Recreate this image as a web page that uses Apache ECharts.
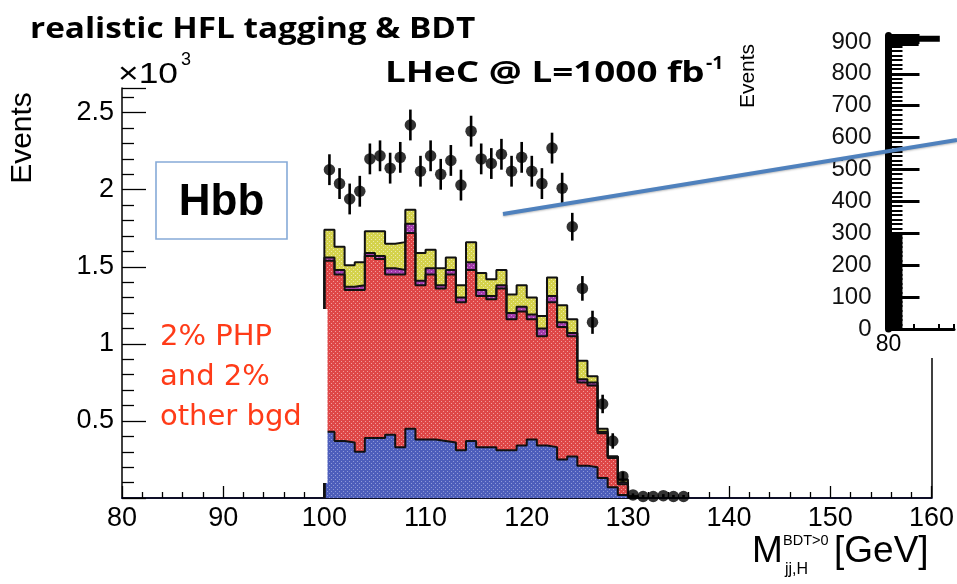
<!DOCTYPE html>
<html><head><meta charset="utf-8">
<script src="https://cdn.jsdelivr.net/npm/echarts@6/dist/echarts.min.js"></script>
<style>html,body{margin:0;padding:0;background:#fff}#c{width:957px;height:584px}</style>
</head><body><div id="c"></div>
<script>
// ---- data (values in units of 10^3 events) ----
const binLow = [100,101,102,103,104,105,106,107,108,109,110,111,112,113,114,115,116,117,118,119,120,121,122,123,124,125,126,127,128,129,130,131,132,133,134,135];
const bkgBlue    = [0.43,0.37,0.36,0.30,0.39,0.39,0.41,0.33,0.45,0.38,0.38,0.37,0.36,0.31,0.37,0.33,0.33,0.31,0.31,0.34,0.38,0.34,0.33,0.25,0.27,0.21,0.20,0.13,0.07,0.02,0.005];
const bkgRed     = [1.11,1.08,0.99,1.05,1.18,1.16,1.04,1.12,1.27,1.00,1.07,0.99,1.09,0.96,1.11,0.98,0.96,1.05,0.85,0.87,0.78,0.71,0.94,0.86,0.78,0.54,0.53,0.29,0.19,0.07,0.005];
const bkgMagenta = [0.02,0.03,0.02,0.03,0.02,0.02,0.04,0.03,0.06,0.03,0.04,0.02,0.03,0.03,0.05,0.04,0.02,0.02,0.04,0.03,0.03,0.05,0.04,0.03,0.02,0.02,0.02,0.01,0.01,0.01,0];
const bkgYellow  = [0.18,0.15,0.14,0.15,0.14,0.16,0.16,0.18,0.09,0.18,0.12,0.11,0.08,0.08,0.13,0.11,0.11,0.10,0.12,0.14,0.11,0.08,0.12,0.11,0.09,0.12,0.04,0.02,0.00,0.02,0];
const dataVal = [2.13,2.04,1.94,1.99,2.20,2.22,2.14,2.21,2.42,2.12,2.22,2.10,2.19,2.03,2.38,2.20,2.17,2.23,2.12,2.21,2.12,2.04,2.27,2.01,1.76,1.36,1.14,0.61,0.37,0.14,0.02,0.01,0.01,0.015,0.01,0.01];
const dataErr = [0.10,0.10,0.10,0.10,0.10,0.10,0.10,0.10,0.10,0.10,0.10,0.10,0.10,0.10,0.10,0.10,0.10,0.10,0.10,0.10,0.10,0.10,0.10,0.10,0.09,0.08,0.075,0.06,0.05,0.03,0.01,0.01,0.01,0.01,0.01,0.01];
// inset (partial second plot, events)
const insetBin = [80, 80.56];
const insetFill = [295, 295];
const insetTopA = [[80, 910],[82.06, 910]];
const insetTopB = [[80, 895],[81.21, 895]];

function pattern(base, dot){
  const c = document.createElement('canvas'); c.width = 4; c.height = 4;
  const g = c.getContext('2d'); g.fillStyle = base; g.fillRect(0,0,4,4);
  g.fillStyle = dot; g.fillRect(1,1,1,1); g.fillRect(3,3,1,1);
  return {image: c, repeat: 'repeat'};
}
const layers = [bkgBlue, bkgRed, bkgMagenta, bkgYellow];
const fills = [pattern('#4d5ebb','#8f9ad8'), pattern('#de4747','#f19c9c'), pattern('#a33bab','#cf8fd3'), pattern('#d4d24c','#ecebaa')];
const cum = []; let run = bkgBlue.map(()=>0);
layers.forEach(l => { run = run.map((v,i)=>v + l[i]); cum.push(run.slice()); });
function stepData(vals){
  const n = vals.length; const pts = [[binLow[0], 0]];
  for (let i=0;i<n;i++) pts.push([binLow[i], vals[i]]);
  pts.push([binLow[n-1]+1, vals[n-1]]); pts.push([binLow[n-1]+1, 0]);
  return pts;
}
const series = [];
for (let k=3;k>=0;k--){
  series.push({type:'line', step:'end', data: stepData(cum[k]), symbol:'none', silent:true,
    lineStyle:{color:'#111', width:2}, areaStyle:{color: fills[k], opacity:1}, z:2});
}
series.push({type:'custom', z:4, silent:true,
  data: dataVal.map((v,i)=>[binLow[i]+0.5, v, dataErr[i]]),
  renderItem: function(params, api){
    const x = api.value(0), y = api.value(1), e = api.value(2);
    const p1 = api.coord([x, y-e]), p2 = api.coord([x, y+e]);
    return {type:'line', shape:{x1:p1[0], y1:p1[1], x2:p2[0], y2:p2[1]}, style:{stroke:'#000', lineWidth:2.6}};
  }});
series.push({type:'scatter', z:5, silent:true, symbolSize:11.5, itemStyle:{color:'#000'},
  data: dataVal.map((v,i)=>[binLow[i]+0.5, v])});
// inset series
series.push({type:'line', xAxisIndex:2, yAxisIndex:2, step:'end', symbol:'none', z:110, silent:true,
  data: insetBin.map((x,i)=>[x, insetFill[i]]), lineStyle:{width:0}, areaStyle:{color:'#000', opacity:1}});
series.push({type:'line', xAxisIndex:2, yAxisIndex:2, symbol:'none', z:110, silent:true, data: insetTopA, lineStyle:{color:'#000', width:6}});
series.push({type:'line', xAxisIndex:2, yAxisIndex:2, symbol:'none', z:110, silent:true, data: insetTopB, lineStyle:{color:'#000', width:5}});

const FONT = 'Liberation Sans, Arial, sans-serif';
const option = {
  animation:false,
  grid:[
    {left:122, right:25, top:88, bottom:86},
    {left:888.5, right:0, top:35.5, bottom:255}
  ],
  xAxis:[
    {gridIndex:0, type:'value', min:80, max:160, interval:10, position:'bottom',
     axisLine:{lineStyle:{color:'#3b3fa3', width:2}},
     axisTick:{inside:true, length:12, lineStyle:{color:'#000', width:1.3}},
     minorTick:{show:true, splitNumber:5, length:6, lineStyle:{color:'#000', width:1.3}},
     splitLine:{show:false},
     axisLabel:{color:'#000', fontSize:27, fontFamily:FONT, margin:7}},
    {gridIndex:0, type:'value', min:80, max:160, position:'top',
     axisLine:{show:true, lineStyle:{color:'#000', width:1.5}}, axisTick:{show:false}, axisLabel:{show:false}, splitLine:{show:false}},
    {gridIndex:1, type:'value', min:80, max:82.63, interval:1, z:110,
     axisLine:{lineStyle:{color:'#000', width:3}},
     axisTick:{inside:true, length:5, lineStyle:{color:'#000', width:2}},
     splitLine:{show:false},
     axisLabel:{color:'#000', fontSize:23, fontFamily:FONT, margin:4, formatter: v => v===80 ? '80' : ''}}
  ],
  yAxis:[
    {gridIndex:0, type:'value', min:0, max:2.66, interval:0.5,
     axisLine:{show:true, lineStyle:{color:'#000', width:1.5}},
     axisTick:{inside:true, length:24, lineStyle:{color:'#000', width:1.3}},
     minorTick:{show:true, splitNumber:5, length:12, lineStyle:{color:'#000', width:1.3}},
     splitLine:{show:false},
     axisLabel:{color:'#000', fontSize:27, fontFamily:FONT, margin:8,
       formatter: v => (v>0 && Math.abs(v/0.5 - Math.round(v/0.5))<1e-6) ? String(v) : ''}},
    {gridIndex:0, type:'value', min:0, max:2.66, position:'right',
     axisLine:{show:true, lineStyle:{color:'#000', width:1.5}}, axisTick:{show:false}, axisLabel:{show:false}, splitLine:{show:false}},
    {gridIndex:1, type:'value', min:0, max:920, interval:100, z:110,
     axisLine:{show:true, lineStyle:{color:'#000', width:7}},
     axisTick:{inside:true, length:31, lineStyle:{color:'#000', width:3}},
     minorTick:{show:true, splitNumber:7, length:14, lineStyle:{color:'#000', width:2}},
     splitLine:{show:false},
     axisLabel:{color:'#111', fontSize:24, fontFamily:FONT, margin:17,
       formatter: v => (v%100===0) ? String(v) : ''}}
  ],
  series: series,
  graphic:[
    // white text box behind red note
    {type:'rect', z:100, silent:true, shape:{x:150, y:309, width:177.5, height:174}, style:{fill:'#fff'}},
    {type:'text', z:101, style:{x:160, y:337, text:'2% PHP', fill:'#ff3b18', font:'29px DejaVu Sans', verticalAlign:'middle'}},
    {type:'text', z:101, style:{x:160, y:377, text:'and 2%', fill:'#ff3b18', font:'29px DejaVu Sans', verticalAlign:'middle'}},
    {type:'text', z:101, style:{x:160, y:417, text:'other bgd', fill:'#ff3b18', font:'29px DejaVu Sans', verticalAlign:'middle'}},
    // Hbb box
    {type:'rect', z:100, silent:true, shape:{x:156, y:162, width:131, height:77}, style:{fill:'#fff', stroke:'#86aad8', lineWidth:1.6}},
    {type:'text', z:101, style:{x:221.5, y:203, text:'Hbb', fill:'#000', font:'bold 44px Liberation Sans', align:'center', verticalAlign:'middle'}},
    // titles
    {type:'text', z:101, x:30, y:30, scaleX:1.19, style:{x:0, y:0, text:'realistic HFL tagging & BDT', fill:'#000', font:'bold 28px Open Sans', verticalAlign:'middle'}},
    {type:'text', z:101, x:385, y:74, scaleX:1.27, style:{x:0, y:0, text:'LHeC @ L=1000 fb', fill:'#000', font:'bold 29px Open Sans', verticalAlign:'middle'}},
    {type:'text', z:101, x:706, y:64, scaleX:1.15, style:{x:0, y:0, text:'-1', fill:'#000', font:'bold 17px Open Sans', verticalAlign:'middle'}},
    {type:'text', z:101, x:118, y:75, scaleX:1.22, style:{x:0, y:0, text:'\u00d710', fill:'#000', font:'29px Liberation Sans', verticalAlign:'middle'}},
    {type:'text', z:101, style:{x:181, y:60, text:'3', fill:'#000', font:'18px Liberation Sans', verticalAlign:'middle'}},
    {type:'text', z:101, rotation:Math.PI/2, x:23, y:138, style:{x:0, y:0, text:'Events', fill:'#000', font:'30px Liberation Sans', align:'center', verticalAlign:'middle'}},
    // x title
    {type:'text', z:101, style:{x:752, y:552, text:'M', fill:'#000', font:'37px Liberation Sans', verticalAlign:'middle'}},
    {type:'text', z:101, style:{x:783, y:541, text:'BDT>0', fill:'#000', font:'14.5px Liberation Sans', verticalAlign:'middle'}},
    {type:'text', z:101, style:{x:785, y:570, text:'jj,H', fill:'#000', font:'16px Liberation Sans', verticalAlign:'middle'}},
    {type:'text', z:101, style:{x:834, y:552, text:'[GeV]', fill:'#000', font:'37px Liberation Sans', verticalAlign:'middle'}},
    // inset background
    {type:'rect', z:100, silent:true, shape:{x:733, y:0, width:224, height:358}, style:{fill:'#fff'}},
    {type:'text', z:111, rotation:Math.PI/2, x:748, y:76, style:{x:0, y:0, text:'Events', fill:'#000', font:'21px Liberation Sans', align:'center', verticalAlign:'middle'}},
    // callout line
    {type:'line', z:120, silent:true, shape:{x1:503, y1:214, x2:957, y2:140}, style:{stroke:'#4f81bd', lineWidth:4, shadowColor:'rgba(0,0,0,0.25)', shadowBlur:2, shadowOffsetY:1}}
  ]
};
const chart = echarts.init(document.getElementById('c'), null, {renderer:'canvas'});
chart.setOption(option);
</script></body></html>
